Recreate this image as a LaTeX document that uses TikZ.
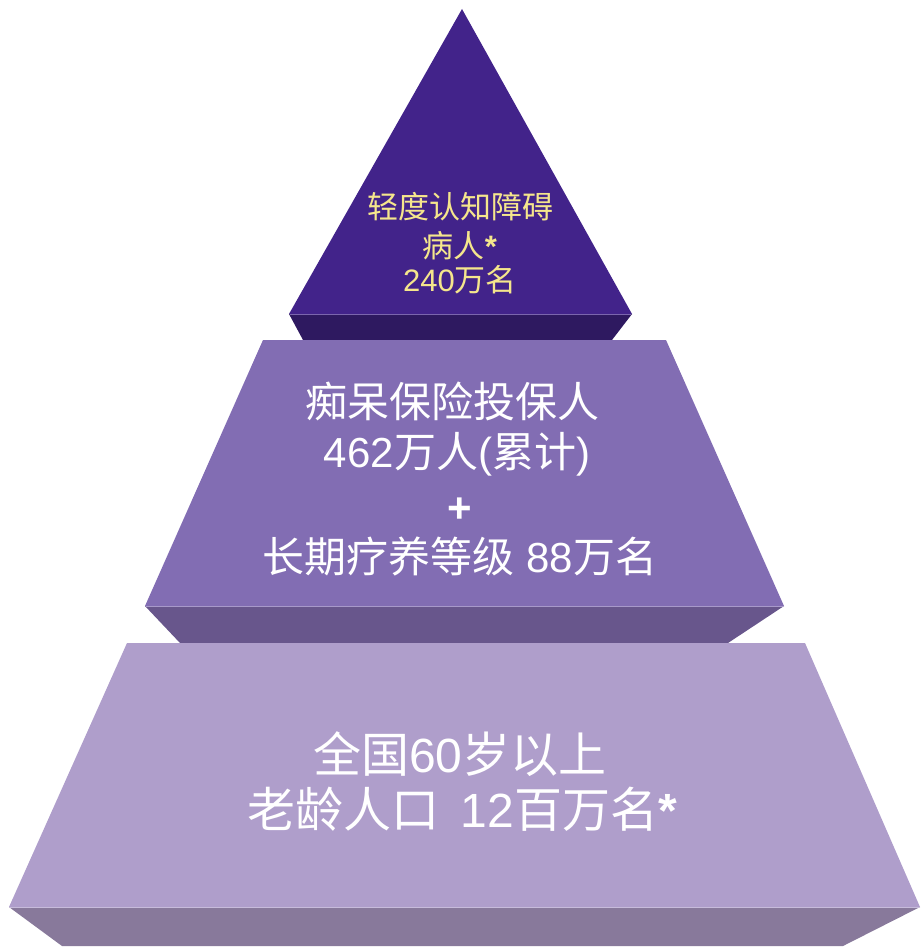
\documentclass[tikz,border=0pt]{standalone}
\usepackage{fontspec}
\setmainfont{Liberation Sans}
\newfontfamily\cjk{Noto Sans CJK SC}
\definecolor{topfront}{RGB}{66,35,138}
\definecolor{topdark}{RGB}{46,25,96}
\definecolor{midfront}{RGB}{130,109,179}
\definecolor{middark}{RGB}{104,86,140}
\definecolor{botfront}{RGB}{175,158,203}
\definecolor{botdark}{RGB}{136,121,155}
\definecolor{topyellow}{RGB}{245,230,140}
\begin{document}
\begin{tikzpicture}[x=1pt,y=-1pt,
  lbl/.style={anchor=base, inner sep=0pt},
  toplbl/.style={lbl, text=topyellow, font=\fontsize{31}{31}\selectfont},
  midlbl/.style={lbl, text=white, font=\fontsize{42}{42}\selectfont},
  botlbl/.style={lbl, text=white, font=\fontsize{48}{48}\selectfont},
  edge/.style={line width=0.8pt}]
\useasboundingbox (0,0) rectangle (921,947);
% top tier
\fill[topfront] (462,9) -- (632,314) -- (289,314) -- cycle;
\fill[topdark] (289,314) -- (632,314) -- (612,340) -- (303,340) -- cycle;
\draw[edge, topfront!70!white] (290,314) -- (631,314);
% middle tier
\fill[midfront] (263,340) -- (666,340) -- (784,606) -- (145,606) -- cycle;
\fill[middark] (145,606) -- (784,606) -- (728,643) -- (180,643) -- cycle;
\draw[edge, midfront!70!white] (146,606) -- (783,606);
% bottom tier
\fill[botfront] (127,643) -- (805,643) -- (920,907) -- (9,907) -- cycle;
\fill[botdark] (9,907) -- (920,907) -- (843,946) -- (62,946) -- cycle;
\draw[edge, botfront!70!white] (10,907) -- (919,907);
% texts
\node[toplbl] (t1) at (460,218) {\cjk 轻度认知障碍};
\node[toplbl] (t2) at (460,257) {{\cjk 病人}\textbf{*}};
\node[toplbl] (t3) at (460,291) {240{\cjk 万名}};
\node[midlbl] (m1) at (452,417) {\cjk 痴呆保险投保人};
\node[midlbl] (m2) at (457,467) {462{\cjk 万人}({\cjk 累计})};
\node[midlbl, font=\fontsize{42}{42}\selectfont\bfseries] (m3) at (460,522) {+};
\node[midlbl] (m4) at (460,572) {{\cjk 长期疗养等级} 88{\cjk 万名}};
\node[botlbl] (b1) at (460,772) {{\cjk 全国}60{\cjk 岁以上}};
\node[botlbl] (b2) at (462,827) {{\cjk 老龄人口}\hspace{0.45em}12{\cjk 百万名}\textbf{*}};
\end{tikzpicture}
\end{document}
